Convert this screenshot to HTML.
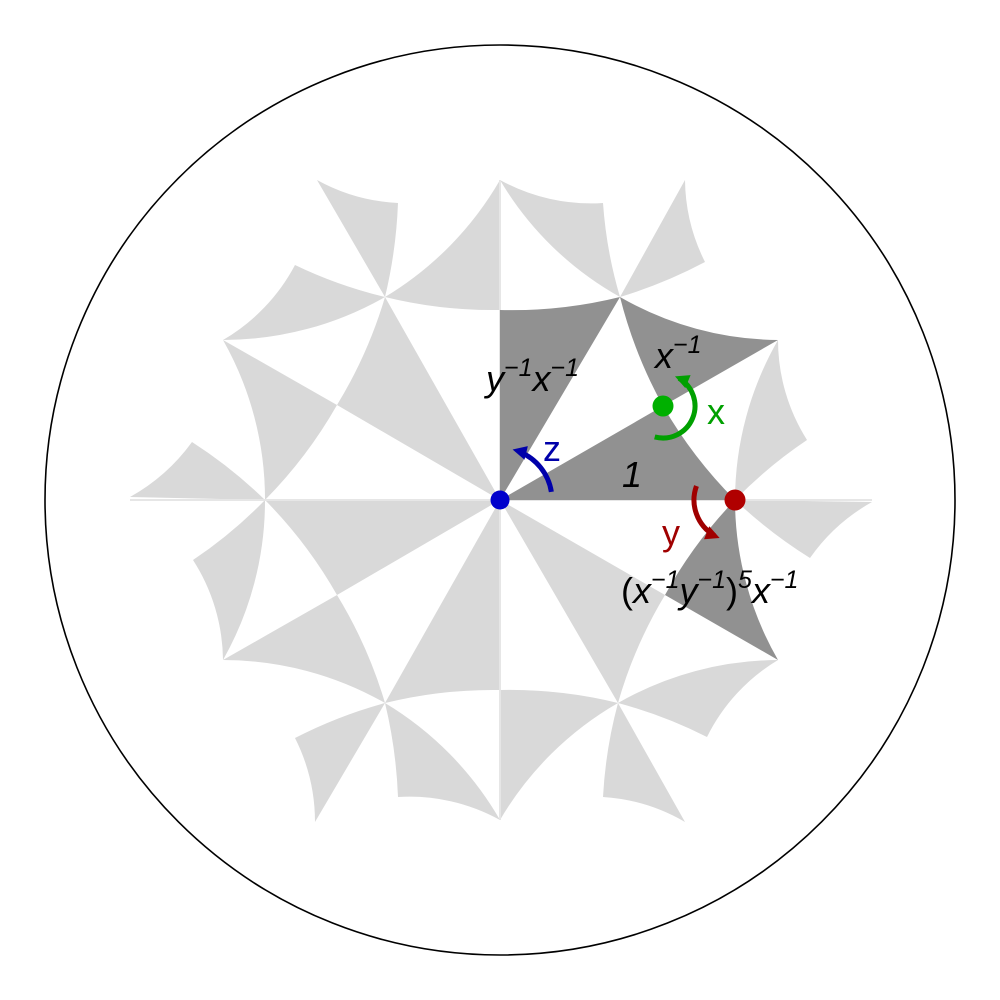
<!DOCTYPE html>
<html><head><meta charset="utf-8"><style>
body{margin:0;background:#fff}
svg{display:block}
text{font-family:"Liberation Sans",sans-serif}
</style></head><body>
<svg id="s" width="1000" height="1000" viewBox="0 0 1000 1000">
<rect width="1000" height="1000" fill="#fff"/>
<g id="tiles"></g>
<line x1="130" y1="500" x2="872" y2="500" stroke="#e6e6e6" stroke-width="2"/>
<line x1="500" y1="180" x2="500" y2="820" stroke="#e6e6e6" stroke-width="2"/>
<g id="dark"></g>
<circle cx="500" cy="500" r="455" fill="none" stroke="#000" stroke-width="1.6"/>
<g id="arrows"></g>
<circle cx="500" cy="500" r="9.5" fill="#0000cc"/>
<circle cx="663" cy="406" r="10.5" fill="#00b000"/>
<circle cx="735" cy="500" r="10.5" fill="#b00000"/>
<text x="486" y="391" font-size="36" font-style="italic">y<tspan font-size="25" dy="-15">−1</tspan><tspan dy="15">x</tspan><tspan font-size="25" dy="-15">−1</tspan></text>
<text x="655" y="368" font-size="36" font-style="italic">x<tspan font-size="25" dy="-15">−1</tspan></text>
<text x="622" y="487" font-size="36" font-style="italic">1</text>
<text x="707" y="424" font-size="36" fill="#00a000">x</text>
<text x="543" y="461" font-size="36" fill="#0000aa">z</text>
<text x="662" y="545" font-size="36" fill="#a00000">y</text>
<text x="621" y="603" font-size="36" font-style="italic"><tspan font-style="normal">(</tspan>x<tspan font-size="25" dy="-15">−1</tspan><tspan dy="15">y</tspan><tspan font-size="25" dy="-15">−1</tspan><tspan dy="15" font-style="normal">)</tspan><tspan font-size="25" dy="-15">5</tspan><tspan dy="15">x</tspan><tspan font-size="25" dy="-15">−1</tspan></text>
</svg>
<script>
const C=500,RR=455;
const lightTiles=[
 [[500,500],[385,297],[337,405]],
 [[223,340],[337,405],[265,500]],
 [[295,265],[385,297],[223,340]],
 [[385,297],[317,180],[398,203]],
 [[385,297],[500,180],[500,310]],
 [[265,500],[192,442],[130,497]],
 [[500,500],[265,500],[337,595]],
 [[500,500],[385,703],[500,690]],
 [[337,595],[223,660],[385,703]],
 [[265,500],[193,560],[223,660]],
 [[385,703],[295,738],[315,822]],
 [[385,703],[398,797],[500,820]],
 [[500,500],[665,595],[618,703]],
 [[500,690],[618,703],[500,820]],
 [[618,703],[778,660],[707,737]],
 [[618,703],[685,822],[603,797]],
 [[735,500],[872,502],[810,558]],
 [[500,180],[620,297],[603,203]],
 [[620,297],[685,180],[705,262]],
 [[735,500],[778,340],[807,440]]
];
const darkTiles=[
 [[500,500],[735,500],[663,406]],
 [[500,500],[500,310],[620,297]],
 [[663,406],[620,297],[778,340]],
 [[735,500],[665,595],[778,660]]
];
function seg(a,b){
 const ax=a[0]-C,ay=a[1]-C,bx=b[0]-C,by=b[1]-C;
 const na=ax*ax+ay*ay;
 if(na<4) return `L${b[0]} ${b[1]}`;
 const cx=ax*RR*RR/na,cy=ay*RR*RR/na;
 const d=2*(ax*(by-cy)+bx*(cy-ay)+cx*(ay-by));
 if(Math.abs(ax*by-ay*bx)<0.01*Math.sqrt(na*(bx*bx+by*by))) return `L${b[0]} ${b[1]}`;
 const nb=bx*bx+by*by,nc=cx*cx+cy*cy;
 const ux=(na*(by-cy)+nb*(cy-ay)+nc*(ay-by))/d;
 const uy=(na*(cx-bx)+nb*(ax-cx)+nc*(bx-ax))/d;
 const r=Math.hypot(ax-ux,ay-uy);
 if(r>20000) return `L${b[0]} ${b[1]}`;
 const dx=bx-ax,dy=by-ay;
 const sw=((ux-ax)*(-dy)+(uy-ay)*dx)>0?1:0;
 return `A${r.toFixed(2)} ${r.toFixed(2)} 0 0 ${sw} ${b[0]} ${b[1]}`;
}
function draw(tiles,g,fill,name){
 tiles.forEach((t,i)=>{
  let d=`M${t[0][0]} ${t[0][1]}`;
  for(let k=0;k<t.length;k++) d+=seg(t[k],t[(k+1)%t.length]);
  const p=document.createElementNS('http://www.w3.org/2000/svg','path');
  p.setAttribute('d',d+'Z');p.setAttribute('fill',fill);
  
  
  g.appendChild(p);
 });
}
draw(lightTiles,document.getElementById('tiles'),'#d9d9d9','light-tile');
draw(darkTiles,document.getElementById('dark'),'#919191','dark-tile');
function arrow(cx,cy,r,a0,a1,col,name){
 const g=document.getElementById('arrows');
 const rad=x=>x*Math.PI/180;
 const p0=[cx+r*Math.cos(rad(a0)),cy+r*Math.sin(rad(a0))];
 const aEnd=a1-(a1>a0?8:-8);
 const p1=[cx+r*Math.cos(rad(aEnd)),cy+r*Math.sin(rad(aEnd))];
 const sw=a1>a0?1:0;
 const large=Math.abs(aEnd-a0)>180?1:0;
 const path=document.createElementNS('http://www.w3.org/2000/svg','path');
 path.setAttribute('d',`M${p0[0]} ${p0[1]}A${r} ${r} 0 ${large} ${sw} ${p1[0]} ${p1[1]}`);
 path.setAttribute('fill','none');path.setAttribute('stroke',col);path.setAttribute('stroke-width','5');
 
 
 g.appendChild(path);
 const tip=[cx+r*Math.cos(rad(a1)),cy+r*Math.sin(rad(a1))];
 const s=a1>a0?1:-1;
 const tx=-Math.sin(rad(a1))*s,ty=Math.cos(rad(a1))*s;
 const nx=Math.cos(rad(a1)),ny=Math.sin(rad(a1));
 const b=[tip[0]-tx*14,tip[1]-ty*14];
 const h=document.createElementNS('http://www.w3.org/2000/svg','polygon');
 h.setAttribute('points',`${tip[0]},${tip[1]} ${b[0]+nx*7},${b[1]+ny*7} ${b[0]-nx*7},${b[1]-ny*7}`);
 h.setAttribute('fill',col);
 
 
 g.appendChild(h);
}
arrow(500,500,52,-9,-76,'#0000aa','z-rotation-arrow');
arrow(663,406,32,105,-68,'#00a000','x-rotation-arrow');
arrow(735,500,41,200,112,'#a00000','y-rotation-arrow');
</script>
</body></html>
